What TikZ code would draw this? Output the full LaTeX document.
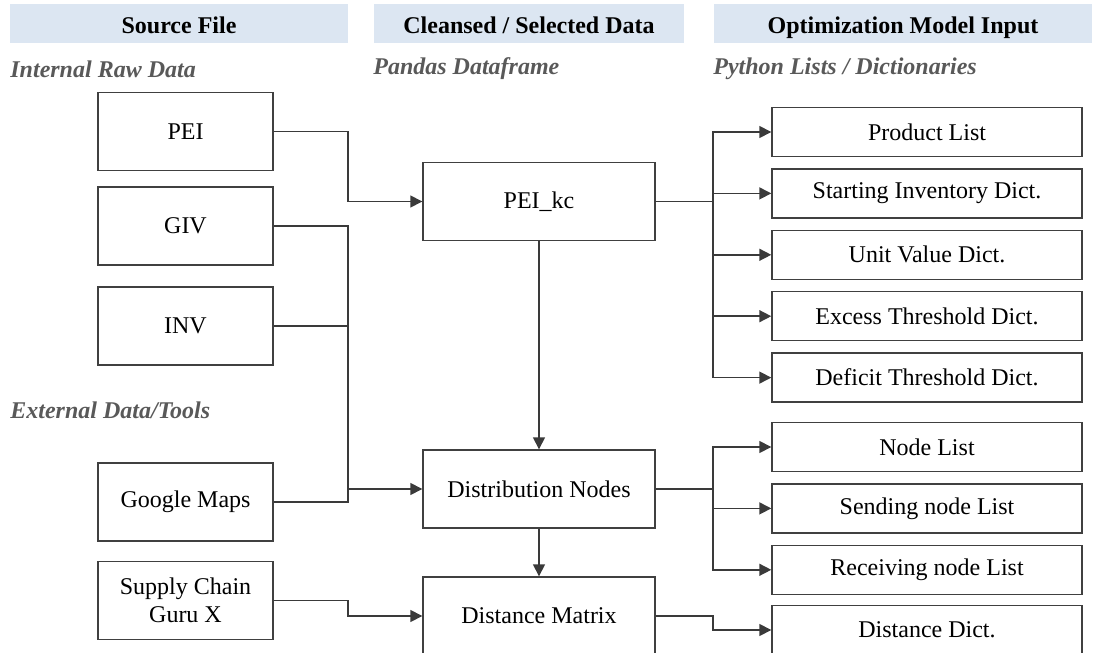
\documentclass[tikz,border=0pt]{standalone}
\usepackage{fontspec}
\setmainfont{Liberation Serif}
\usepackage{xcolor}
\usetikzlibrary{arrows.meta,positioning,calc}
\definecolor{headblue}{HTML}{DCE6F2}
\definecolor{boxline}{HTML}{404040}
\definecolor{linegrey}{HTML}{3A3A3A}
\definecolor{labgrey}{HTML}{595959}

\begin{document}
\begin{tikzpicture}[x=0.5pt,y=-0.5pt,node distance=5.5pt,
  every node/.style={font=\fontsize{12}{14}\selectfont},
  head/.style={fill=headblue,minimum height=19.5pt,text height=10pt,text depth=0.5pt,font=\fontsize{12}{14}\selectfont\bfseries},
  grp/.style={anchor=west,inner sep=0pt,text=labgrey,font=\fontsize{12}{14}\selectfont\bfseries\itshape},
  src/.style={draw=boxline,line width=0.7pt,minimum width=87.5pt,minimum height=39pt,align=center,inner sep=2pt},
  mid/.style={src,minimum width=116pt},
  inbox/.style={src,minimum width=155pt,minimum height=24.5pt},
  conn/.style={line width=0.75pt,draw=linegrey},
  arr/.style={conn,-{Triangle[length=6pt,width=6pt]}}]
\useasboundingbox (0,0) rectangle (1099,653);
\node[head,minimum width=169pt] (h1) at (179,23.5) {Source File};
\node[head,minimum width=155pt] (h2) at (529,23.5) {Cleansed / Selected Data};
\node[head,minimum width=189pt] (h3) at (903,23.5) {Optimization Model Input};
\node[grp] (g1) at (10,69) {Internal Raw Data};
\node[grp] (g2) at (373,69) {Pandas Dataframe};
\node[grp] (g3) at (713,69) {Python Lists / Dictionaries};
\node[grp] (g4) at (10,410) {External Data/Tools};
% source files
\node[src] (pei) at (185.5,131.5) {PEI};
\node[src] (giv) at (185.5,226) {GIV};
\node[src] (inv) at (185.5,326) {INV};
\node[src] (gmap) at (185.5,502) {Google Maps};
\node[src] (scg) at (185.5,600.5) {Supply Chain\\Guru X};
% dataframes
\node[mid] (peikc) at (539,201.5) {PEI\_kc};
\node[mid] (dnodes) at (539,489) {Distribution Nodes};
\node[mid] (dmat) at (539,616) {Distance Matrix};
% model inputs
\node[inbox] (plist) at (927,132) {Product List};
\node[inbox,below=of plist] (sinv) {Starting Inventory Dict.};
\node[inbox,below=of sinv] (uval) {Unit Value Dict.};
\node[inbox,below=of uval] (exth) {Excess Threshold Dict.};
\node[inbox,below=of exth] (defth) {Deficit Threshold Dict.};
\node[inbox] (nlist) at (927,447) {Node List};
\node[inbox,below=of nlist] (slist) {Sending node List};
\node[inbox,below=of slist] (rlist) {Receiving node List};
\node[inbox] (ddict) at (927,630) {Distance Dict.};
\coordinate (lt) at (348,0);
\coordinate (rt) at (713,0);
\draw[arr] (pei.east) -| (lt |- peikc) -- (peikc.west);
\draw[conn] (giv.east) -| (lt |- dnodes);
\draw[conn] (inv.east) -- (inv.east -| lt);
\draw[conn] (gmap.east) -| (lt |- dnodes);
\draw[arr] (lt |- dnodes) -- (dnodes.west);
\draw[arr] (scg.east) -| (lt |- dmat) -- (dmat.west);
\draw[arr] (peikc) -- (dnodes);
\draw[arr] (dnodes) -- (dmat);
\foreach \t in {plist,sinv,uval,exth,defth}
  \draw[arr] (peikc.east) -| (rt |- \t) -- (\t.west);
\foreach \t in {nlist,slist,rlist}
  \draw[arr] (dnodes.east) -| (rt |- \t) -- (\t.west);
\draw[arr] (dmat.east) -| (rt |- ddict) -- (ddict.west);
\end{tikzpicture}
\end{document}
